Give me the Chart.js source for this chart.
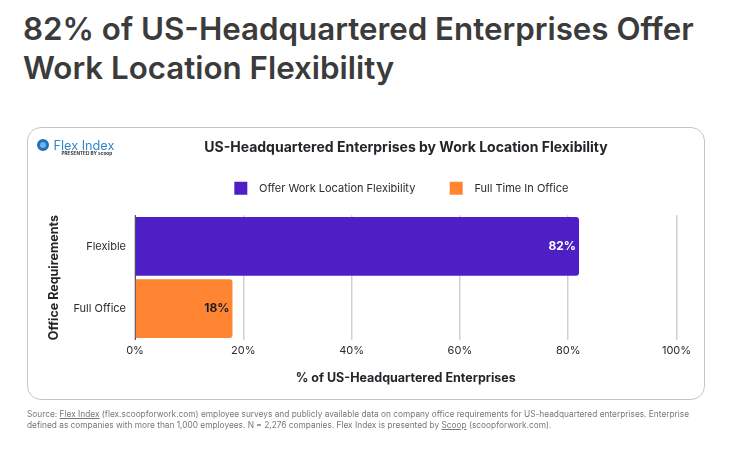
<!DOCTYPE html>
<html>
<head>
  <title>82% of US-Headquartered Enterprises Offer Work Location Flexibility</title>
  <script src="https://cdn.jsdelivr.net/npm/chart.js"></script>
  <style>
    html, body { margin: 0; padding: 0; background: #fff; }
    body { width: 731px; height: 449px; position: relative; overflow: hidden; font-family: Inter, Arial, sans-serif; }
    h1 { position: absolute; left: 23px; top: 10px; margin: 0; font-size: 31.3px; line-height: 38.5px; font-weight: 600; color: #3b3b3b; white-space: nowrap; }
    .frame { position: absolute; left: 27px; top: 127px; width: 678px; height: 273px; box-sizing: border-box; border: 1.5px solid #c4c4c8; border-radius: 14px; }
    .clip { position: absolute; left: 27px; top: 127px; width: 678px; height: 273px; overflow: hidden; }
    canvas { position: absolute; left: 0; top: 0; }
    .logo { position: absolute; left: 36px; top: 137px; width: 80px; height: 24px; }
    .logo .mark { position: absolute; left: 1px; top: 2px; width: 6px; height: 6px; border: 3px solid #2270b8; background: #6fb4e6; border-radius: 50%; }
    .logo .name { position: absolute; left: 17.5px; top: 1px; font-size: 12.7px; line-height: 15px; color: #2f86cc; white-space: nowrap; }
    .logo .by { position: absolute; left: 25.5px; top: 13px; font-size: 4.7px; line-height: 6px; font-weight: 700; color: #333; white-space: nowrap; }
    .note { position: absolute; left: 27px; top: 409px; margin: 0; font-size: 8.32px; line-height: 11px; color: #77777c; white-space: nowrap; }
    .note u { text-underline-offset: 1px; }
  </style>
</head>
<body>
  <h1>82% of US-Headquartered Enterprises Offer<br>Work Location Flexibility</h1>
  <div class="clip"><canvas id="flexChart" width="758" height="273"></canvas></div>
  <div class="frame"></div>
  <div class="logo">
    <div class="mark"></div>
    <div class="name">Flex Index</div>
    <div class="by">PRESENTED BY scoop</div>
  </div>
  <p class="note">Source: <u>Flex Index</u> (flex.scoopforwork.com) employee surveys and publicly available data on company office requirements for US-headquartered enterprises. Enterprise<br>defined as companies with more than 1,000 employees. N = 2,276 companies. Flex Index is presented by <u>Scoop</u> (scoopforwork.com).</p>

  <script>
    const categories = ['Flexible', 'Full Office'];
    const flexibleValues = [82, null];
    const fullOfficeValues = [null, 18];
    const xTicks = [0, 20, 40, 60, 80, 100];

    const PURPLE = '#4d1fc4';
    const ORANGE = '#ff8533';
    const FONT = 'Inter, Arial, sans-serif';

    // values written inside the end of each bar
    const barLabels = {
      id: 'barLabels',
      afterDatasetsDraw(chart) {
        const ctx = chart.ctx;
        ctx.save();
        ctx.font = '700 12px ' + FONT;
        ctx.textAlign = 'right';
        ctx.textBaseline = 'middle';
        chart.data.datasets.forEach((ds, i) => {
          chart.getDatasetMeta(i).data.forEach((bar, j) => {
            if (ds.data[j] == null) return;
            ctx.fillStyle = i === 0 ? '#ffffff' : '#1c1c22';
            ctx.fillText(ds.data[j] + '%', bar.x - 3, bar.y);
          });
        });
        ctx.restore();
      }
    };

    // empty axes, only there to hold space around the plot
    const spacer = (position, size) => ({
      display: true,
      position: position,
      type: 'category',
      labels: [],
      border: { display: false },
      grid: { display: false, drawTicks: false },
      ticks: { display: false },
      afterFit: axis => {
        if (position === 'top') axis.height = size;
        else axis.width = size;
      }
    });

    new Chart(document.getElementById('flexChart'), {
      type: 'bar',
      plugins: [barLabels],
      data: {
        labels: categories,
        datasets: [
          { label: 'Offer Work Location Flexibility', data: flexibleValues, backgroundColor: PURPLE },
          { label: 'Full Time In Office', data: fullOfficeValues, backgroundColor: ORANGE }
        ]
      },
      options: {
        indexAxis: 'y',
        responsive: false,
        animation: false,
        devicePixelRatio: 1,
        layout: { padding: { top: 0, right: 0, bottom: 14, left: 0 } },
        datasets: {
          bar: {
            barPercentage: 1,
            categoryPercentage: 0.945,
            borderRadius: { topRight: 3, bottomRight: 3 }
          }
        },
        scales: {
          x: {
            min: 0,
            max: 100,
            afterBuildTicks: axis => { axis.ticks = xTicks.map(v => ({ value: v })); },
            border: { display: false },
            grid: { color: '#cfcfd3', lineWidth: 1.5, drawTicks: false },
            ticks: { padding: 4, color: '#2a2a30', font: { family: FONT, size: 11 }, maxRotation: 0, callback: v => v + '%' },
            title: { display: true, text: '% of US-Headquartered Enterprises', color: '#24242a', font: { family: FONT, size: 12.5, weight: '700' }, padding: { top: 10, bottom: 0 } }
          },
          y: {
            stacked: true,
            afterFit: axis => { axis.width = 108; },
            border: { display: true, color: '#55555c', width: 1 },
            grid: { display: false, drawTicks: false },
            ticks: { padding: 9, color: '#2a2a30', font: { family: FONT, size: 11 } },
            title: { display: true, text: 'Office Requirements', color: '#24242a', font: { family: FONT, size: 12.5, weight: '700' }, padding: { top: 20, bottom: 0 } }
          },
          topGap: spacer('top', 10.5),
          rightGap: spacer('right', 108.5)
        },
        plugins: {
          tooltip: { enabled: false },
          title: {
            display: true,
            text: 'US-Headquartered Enterprises by Work Location Flexibility',
            color: '#24242a',
            font: { family: FONT, size: 14, weight: '700' },
            padding: { top: 12, bottom: 4 }
          },
          legend: {
            position: 'top',
            labels: {
              boxWidth: 13,
              boxHeight: 13,
              padding: 22,
              color: '#2a2a30',
              font: { family: FONT, size: 11 },
              // wider gaps between swatch and text, and between the two items
              generateLabels(chart) {
                return Chart.defaults.plugins.legend.labels.generateLabels(chart).map((item, i) => {
                  item.text = '  ' + item.text + (i === 0 ? '    ' : '   ');
                  return item;
                });
              }
            }
          }
        }
      }
    });
  </script>
</body>
</html>
